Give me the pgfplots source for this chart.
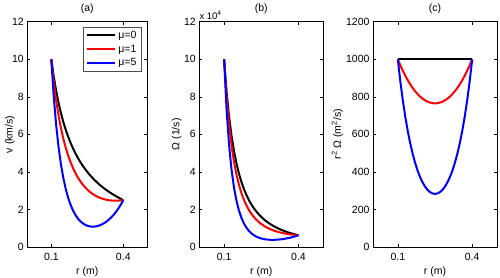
\documentclass[border=0pt]{standalone}
\usepackage{pgfplots}
\pgfplotsset{compat=1.18}
\usepackage{pgfplotstable}
\usepackage{fontspec}
\setmainfont{Liberation Sans}

\pgfplotstableread{
r vk vr vb Ok Or Ob fk fr fb
0.10 10.0000 10.0000 10.0000 10.0000 10.0000 10.0000 1000 1000.0 1000.0
0.11 9.0909 8.8036 8.0387 8.2645 8.0033 7.3079 1000 968.4 884.26
0.12 8.3333 7.8283 6.5272 6.9444 6.5236 5.4393 1000 939.4 783.26
0.13 7.6923 7.0215 5.3485 5.9172 5.4012 4.1142 1000 912.8 695.31
0.14 7.1429 6.3471 4.4211 5.1020 4.5336 3.1579 1000 888.6 618.95
0.15 6.6667 5.7780 3.6859 4.4444 3.8520 2.4573 1000 866.7 552.89
0.16 6.2500 5.2938 3.1003 3.9063 3.3086 1.9377 1000 847.0 496.05
0.17 5.8824 4.8800 2.6322 3.4602 2.8706 1.5484 1000 829.6 447.48
0.18 5.5556 4.5239 2.2576 3.0864 2.5133 1.2542 1000 814.3 406.37
0.19 5.2632 4.2163 1.9580 2.7701 2.2191 1.0305 1000 801.1 372.02
0.20 5.0000 3.9500 1.7194 2.5000 1.9750 0.8597 1000 790.0 343.88
0.21 4.7619 3.7190 1.5308 2.2676 1.7710 0.7290 1000 781.0 321.46
0.22 4.5455 3.5182 1.3837 2.0661 1.5992 0.6290 1000 774.0 304.41
0.23 4.3478 3.3435 1.2714 1.8904 1.4537 0.5528 1000 769.0 292.42
0.24 4.1667 3.1917 1.1888 1.7361 1.3299 0.4953 1000 766.0 285.31
0.25 4.0000 3.0600 1.1318 1.6000 1.2240 0.4527 1000 765.0 282.95
0.26 3.8462 2.9462 1.0973 1.4793 1.1332 0.4220 1000 766.0 285.31
0.27 3.7037 2.8481 1.0830 1.3717 1.0549 0.4011 1000 769.0 292.42
0.28 3.5714 2.7643 1.0872 1.2755 0.9873 0.3883 1000 774.0 304.41
0.29 3.4483 2.6931 1.1085 1.1891 0.9287 0.3822 1000 781.0 321.46
0.30 3.3333 2.6333 1.1463 1.1111 0.8778 0.3821 1000 790.0 343.88
0.31 3.2258 2.5842 1.2001 1.0406 0.8336 0.3871 1000 801.1 372.02
0.32 3.1250 2.5447 1.2699 0.9766 0.7952 0.3968 1000 814.3 406.37
0.33 3.0303 2.5139 1.3560 0.9183 0.7618 0.4109 1000 829.6 447.48
0.34 2.9412 2.4912 1.4590 0.8651 0.7327 0.4291 1000 847.0 496.05
0.35 2.8571 2.4763 1.5797 0.8163 0.7075 0.4513 1000 866.7 552.89
0.36 2.7778 2.4683 1.7193 0.7716 0.6856 0.4776 1000 888.6 618.95
0.37 2.7027 2.4670 1.8792 0.7305 0.6668 0.5079 1000 912.8 695.31
0.38 2.6316 2.4721 2.0612 0.6925 0.6506 0.5424 1000 939.4 783.26
0.39 2.5641 2.4831 2.2673 0.6575 0.6367 0.5814 1000 968.4 884.26
0.40 2.5000 2.5000 2.5000 0.6250 0.6250 0.6250 1000 1000.0 1000.0
}\data

\pgfplotsset{
  panel/.style={
    scale only axis,
    height=225.3pt,
    xmin=0, xmax=0.5,
    xtick={0.1,0.4}, xticklabels={0.1,0.4},
    ymin=0,
    scaled y ticks=false,
    tick align=inside,
    major tick length=3pt,
    axis line style={line width=0.5pt},
    every tick/.style={line width=0.5pt, black},
    /pgf/number format/assume math mode=true,
    /pgf/number format/1000 sep={},
    tick label style={font=\fontsize{10.5}{12}\selectfont},
    xticklabel style={yshift=-2.5pt},
    label style={font=\fontsize{10.5}{12}\selectfont},
    title style={font=\fontsize{10.5}{12}\selectfont, yshift=-2pt},
    xlabel={r (m)},
    every axis plot/.append style={line width=2pt},
  }
}

\begin{document}
\begin{tikzpicture}
\path[use as bounding box] (0,0) rectangle (500pt,278pt);

\begin{axis}[panel, at={(27.3pt,31pt)}, anchor=south west, width=120pt,
  ymax=12, ytick={0,2,...,12}, title={(a)}, ylabel={v (km/s)},
  ylabel style={at={(axis description cs:-0.144,0.5)}, anchor=center},
  legend style={at={(0.953,0.978)}, anchor=north east,
    font=\fontsize{10.5}{12}\selectfont, draw=black!70, line width=0.6pt,
    inner xsep=3pt, inner ysep=2pt, row sep=1pt},
  legend cell align=left,
  legend image code/.code={\draw[#1, line width=2pt] (0pt,0pt) -- (28pt,0pt);}]
\addplot[black] table[x=r, y=vk] {\data};
\addlegendentry{μ=0}
\addplot[red] table[x=r, y=vr] {\data};
\addlegendentry{μ=1}
\addplot[blue] table[x=r, y=vb] {\data};
\addlegendentry{μ=5}
\end{axis}

\begin{axis}[panel, at={(199.3pt,31pt)}, anchor=south west, width=124pt,
  ymax=12, ytick={0,2,...,12}, title={(b)}, ylabel={Ω (1/s)},
  ylabel style={at={(axis description cs:-0.182,0.5)}, anchor=center},
  clip=false]
\addplot[black] table[x=r, y=Ok] {\data};
\addplot[red] table[x=r, y=Or] {\data};
\addplot[blue] table[x=r, y=Ob] {\data};
\node[anchor=south west, inner sep=0pt, font=\fontsize{9.5}{10}\selectfont]
  at (rel axis cs:0,1) [yshift=2pt] {x 10\textsuperscript{4}};
\end{axis}

\begin{axis}[panel, at={(373pt,31pt)}, anchor=south west, width=124pt,
  ymax=1200, ytick={0,200,...,1200}, title={(c)},
  ylabel={r\textsuperscript{2} Ω (m\textsuperscript{2}/s)},
  ylabel style={at={(axis description cs:-0.288,0.5)}, anchor=center}]
\addplot[black] table[x=r, y=fk] {\data};
\addplot[red] table[x=r, y=fr] {\data};
\addplot[blue] table[x=r, y=fb] {\data};
\end{axis}
\end{tikzpicture}
\end{document}
